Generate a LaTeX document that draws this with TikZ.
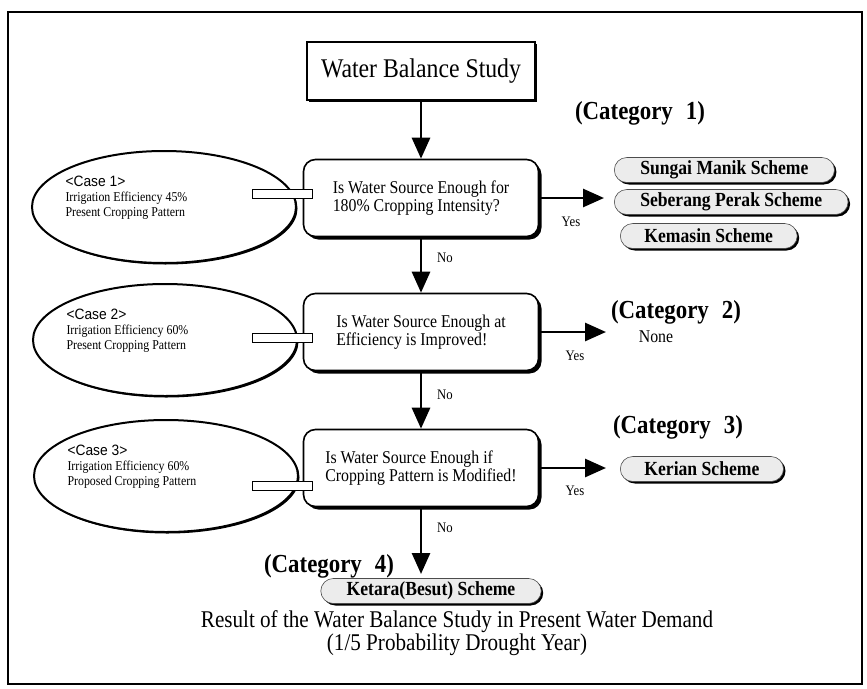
\documentclass[tikz,border=0pt]{standalone}
\usepackage{fontspec}
\setmainfont{Liberation Serif}[FakeStretch=0.88]
\newfontfamily\casefont{Liberation Sans}[FakeStretch=0.92]
\usetikzlibrary{shapes,arrows.meta,positioning,calc,shadows}

\begin{document}
\begin{tikzpicture}[x=1pt, y=-1pt,
        titlebox/.style={rectangle, draw=black, line width=1.6pt, fill=white, minimum width=228pt, minimum height=58pt, font=\fontsize{27}{30}\selectfont, drop shadow={shadow xshift=2pt, shadow yshift=-2pt, fill=black, opacity=1}},
        question/.style={rectangle, draw=black, line width=1.6pt, rounded corners=12pt, fill=white, minimum width=235pt, minimum height=77pt, align=left, font=\fontsize{18}{18}\selectfont, drop shadow={shadow xshift=3pt, shadow yshift=-3pt, fill=black, opacity=1}},
        case/.style={ellipse, draw=black, line width=2pt, fill=white, minimum width=264pt, minimum height=112pt, drop shadow={shadow xshift=1.5pt, shadow yshift=-1.5pt, fill=black, opacity=1}},
        casetext/.style={align=left, anchor=west, xshift=31pt, yshift=9pt, font=\fontsize{13.5}{15}\selectfont},
        pill/.style={rounded rectangle, draw=black!70, line width=0.6pt, fill=gray!15, inner xsep=22pt, inner ysep=2pt, minimum height=25pt, font=\bfseries\fontsize{20}{21}\selectfont, drop shadow={shadow xshift=2pt, shadow yshift=-2pt, fill=black, opacity=1}},
        cat/.style={font=\bfseries\fontsize{26}{28}\selectfont},
        small/.style={font=\fontsize{14.5}{16}\selectfont},
        arrow/.style={line width=2.8pt, -{Triangle[length=21pt, width=18pt]}},
        connbar/.style={draw=black, line width=1.5pt, fill=white},
      ]
      \useasboundingbox (0,0) rectangle (867,688);
      \draw[line width=2.5pt] (8,12) rectangle (862,684);

      % study and the three questions
      \node [titlebox] (study) at (421,71) {Water Balance Study};
      \node [question] (q1) at (421,198) {Is Water Source Enough for\\180\% Cropping Intensity?};
      \node [question] (q2) at (421,332) {Is Water Source Enough at\\Efficiency is Improved!};
      \node [question] (q3) at (421,468) {Is Water Source Enough if\\Cropping Pattern is Modified!};

      % cases
      \node [case, label={[casetext]west:{{\casefont\fontsize{15}{17}\selectfont <Case 1>}\\Irrigation Efficiency 45\%\\Present Cropping Pattern}}] (case1) at (164,207) {};
      \node [case, label={[casetext]west:{{\casefont\fontsize{15}{17}\selectfont <Case 2>}\\Irrigation Efficiency 60\%\\Present Cropping Pattern}}] (case2) at (165,340) {};
      \node [case, label={[casetext]west:{{\casefont\fontsize{15}{17}\selectfont <Case 3>}\\Irrigation Efficiency 60\%\\Proposed Cropping Pattern}}] (case3) at (166,476) {};
      \draw [connbar] ($(q1.west)+(-50,-8.5)$) rectangle ($(q1.west)+(10,0.5)$);
      \draw [connbar] ($(q2.west)+(-50,1.5)$) rectangle ($(q2.west)+(10,10.5)$);
      \draw [connbar] ($(q3.west)+(-50,13.5)$) rectangle ($(q3.west)+(10,22.5)$);

      % categories
      \node [cat] (cat1) at (640,113) {(Category\enspace 1)};
      \node [pill, anchor=west] (sungai) at (614,170) {Sungai Manik Scheme};
      \node [pill, anchor=west] (seberang) at (614,202) {Seberang Perak Scheme};
      \node [pill, anchor=west] (kemasin) at (620,236) {Kemasin Scheme};
      \node [cat] (cat2) at (676,312) {(Category\enspace 2)};
      \node [font=\fontsize{18}{20}\selectfont] (none) at (656,337) {None};
      \node [cat] (cat3) at (678,427) {(Category\enspace 3)};
      \node [pill, anchor=west] (kerian) at (620,469) {Kerian Scheme};
      \node [cat] (cat4) at (329,566) {(Category\enspace 4)};
      \node [pill] (ketara) at (431,591) {Ketara(Besut) Scheme};

      \coordinate (yes1end) at (604,198);
      \coordinate (yes2end) at (606,332);
      \coordinate (yes3end) at (606,468);
      \coordinate (noend) at (421,574);
      \draw [arrow] (study) -- (q1);
      \draw [arrow] (q1) -- (q2);
      \draw [arrow] (q2) -- (q3);
      \draw [arrow] (q3) -- (noend);
      \draw [arrow] (q1) -- (yes1end);
      \draw [arrow] (q2) -- (yes2end);
      \draw [arrow] (q3) -- (yes3end);
      \node [small] (yes1) at (571,222) {Yes};
      \node [small] (yes2) at (575,356) {Yes};
      \node [small] (yes3) at (575,491) {Yes};
      \node [small] (no1) at (445,258) {No};
      \node [small] (no2) at (445,395) {No};
      \node [small] (no3) at (445,528) {No};

      \node [align=center, font=\fontsize{24}{23}\selectfont] (caption) at (457,633) {Result of the Water Balance Study in Present Water Demand\\(1/5 Probability Drought Year)};
    \end{tikzpicture}
\end{document}
